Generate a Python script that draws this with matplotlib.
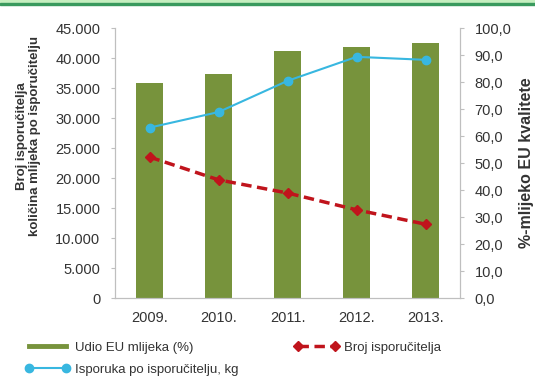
import matplotlib
matplotlib.use("Agg")
import matplotlib.pyplot as plt
from matplotlib.ticker import FuncFormatter, MultipleLocator
from matplotlib.patches import Rectangle
from matplotlib.lines import Line2D

years = ["2009.", "2010.", "2011.", "2012.", "2013."]
eu_share = [79.8, 83.0, 91.5, 93.0, 94.5]          # Udio EU mlijeka (%)
suppliers = [23500, 19700, 17500, 14700, 12300]     # Broj isporučitelja
delivery = [28400, 31000, 36200, 40200, 39700]      # Isporuka po isporučitelju, kg

plt.rcParams['font.family'] = ['Liberation Sans', 'DejaVu Sans']

fig = plt.figure(figsize=(5.35, 3.76), dpi=100)
ax = fig.add_axes([0.215, 0.2074, 0.645, 0.718])
ax2 = ax.twinx()

x = range(len(years))
bar_col = '#77933C'
ax2.bar(x, eu_share, width=0.39, color=bar_col)

# lines on top of the bars
ax.set_zorder(ax2.get_zorder() + 1)
ax.patch.set_visible(False)

l_deliv, = ax.plot(x, delivery, color='#38B7E0', lw=1.5, marker='o', ms=6)
l_supp, = ax.plot(x, suppliers, color='#C0141C', lw=2.5, ls=(0, (3, 1.6)), marker='D', ms=5)

ax.set_xlim(-0.5, 4.5)
ax.set_ylim(0, 45000)
ax2.set_ylim(0, 100)
ax.yaxis.set_major_locator(MultipleLocator(5000))
ax2.yaxis.set_major_locator(MultipleLocator(10))
ax.yaxis.set_major_formatter(FuncFormatter(lambda v, p: f"{int(v):,}".replace(',', '.')))
ax2.yaxis.set_major_formatter(FuncFormatter(lambda v, p: f"{v:.1f}".replace('.', ',')))
ax.set_xticks(list(x))
ax.set_xticklabels(years)

for a in (ax, ax2):
    for s in a.spines.values():
        s.set_color('#BFBFBF')
    a.spines['top'].set_visible(False)
    a.tick_params(axis='both', labelsize=10.5, colors='#BFBFBF', labelcolor='#333333',
                  length=3, pad=7.5)
ax.tick_params(axis='x', length=0, pad=9)

ax.set_ylabel('Broj isporučitelja\nkoličina mlijeka po isporučitelju', fontsize=9.5,
              fontweight='bold', color='#333333', linespacing=1.1)
ax.yaxis.set_label_coords(-0.215, 0.6)
ax2.set_ylabel('%-mlijeko EU kvalitete', fontsize=11.5, fontweight='bold', color='#333333')
ax2.yaxis.set_label_coords(1.17, 0.5)

bar_handle = Line2D([], [], color=bar_col, lw=3.5)
fig.legend([bar_handle, l_deliv, l_supp],
           ['Udio EU mlijeka (%)', 'Isporuka po isporučitelju, kg', 'Broj isporučitelja'],
           ncol=2, loc='lower left', bbox_to_anchor=(0.047, 0.0), frameon=False,
           borderpad=0, borderaxespad=0,
           fontsize=9.5, numpoints=2, handlelength=3.4, handletextpad=0.4,
           columnspacing=4.2, labelspacing=0.75, labelcolor='#333333')

# green band across the top
fig.patches.append(Rectangle((0, 0.992), 1, 0.008, transform=fig.transFigure,
                             color='#C6EFC0', zorder=0))
fig.patches.append(Rectangle((0, 0.986), 1, 0.007, transform=fig.transFigure,
                             color='#3A9A5E', zorder=0))

fig.savefig('out.png', dpi=100)
